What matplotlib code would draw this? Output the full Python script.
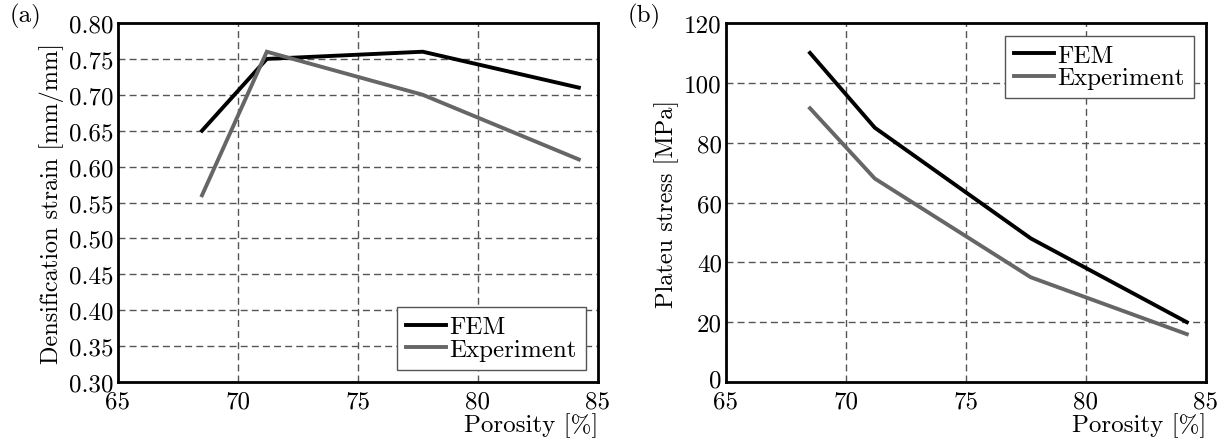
import matplotlib
matplotlib.use("Agg")
import matplotlib.pyplot as plt
import matplotlib.transforms as mtransforms

plt.rcParams['font.family'] = ['cmr10', 'DejaVu Serif']
plt.rcParams['mathtext.fontset'] = 'cm'
plt.rcParams['axes.formatter.use_mathtext'] = True

porosity = [68.5, 71.2, 77.7, 84.2]
dens_fem = [0.65, 0.75, 0.76, 0.71]
dens_exp = [0.56, 0.76, 0.70, 0.61]
plat_fem = [110, 85, 48, 20]
plat_exp = [91.5, 68, 35, 16]

xticks = [65, 70, 75, 80, 85]
yticks_a = [0.30, 0.35, 0.40, 0.45, 0.50, 0.55, 0.60, 0.65, 0.70, 0.75, 0.80]
yticks_b = [0, 20, 40, 60, 80, 100, 120]

fig = plt.figure(figsize=(12.3, 4.39), dpi=100)
W, H = 1230, 439
axa = fig.add_axes([118/W, 1-383/H, 480/W, 359/H])
axb = fig.add_axes([726/W, 1-383/H, 480/W, 359/H])

fs = 18
for ax, fem, exp, yt, ylab, loc, lab, fmt in [
    (axa, dens_fem, dens_exp, yticks_a, 'Densification strain [mm/mm]', 'lower right', '(a)', '{:.2f}'),
    (axb, plat_fem, plat_exp, yticks_b, 'Plateu stress [MPa]', 'upper right', '(b)', '{:d}')]:
    ax.plot(porosity, fem, color='black', lw=2.8, label='FEM', solid_joinstyle='miter')
    ax.plot(porosity, exp, color='#666666', lw=2.8, label='Experiment', solid_joinstyle='miter')
    ax.set_xlim(65, 85)
    ax.set_ylim(yt[0], yt[-1])
    ax.set_xticks(xticks)
    ax.set_xticklabels([str(v) for v in xticks], fontsize=fs)
    ax.set_yticks(yt)
    ax.set_yticklabels([fmt.format(v) for v in yt], fontsize=fs)
    ax.tick_params(axis='y', length=0, pad=3)
    ax.tick_params(axis='x', length=0, pad=6)
    ax.grid(True, color='#555555', linestyle=(0, (5, 3)), lw=1.0)
    for s in ax.spines.values():
        s.set_linewidth(2.0)
    ax.set_xlabel('Porosity [%]', fontsize=fs, loc='right', labelpad=0)
    ax.set_ylabel(ylab, fontsize=17.5, labelpad=4)
    leg = ax.legend(loc=loc, fontsize=fs, fancybox=False, framealpha=1,
                    edgecolor='#555555', borderpad=0.35, handlelength=1.6,
                    handletextpad=0.15, labelspacing=0.0, borderaxespad=0.5)
    leg.get_frame().set_linewidth(1.0)

# nudge the lowest y tick label of panel (b) slightly up, as in the reference
lbl0 = axb.get_yticklabels()[0]
lbl0.set_transform(lbl0.get_transform() + mtransforms.ScaledTranslation(0, 3/72, fig.dpi_scale_trans))

fig.text(10/W, 1-16/H, '(a)', fontsize=fs, va='center', ha='left')
fig.text(628/W, 1-16/H, '(b)', fontsize=fs, va='center', ha='left')

fig.savefig('out.png', dpi=100)
